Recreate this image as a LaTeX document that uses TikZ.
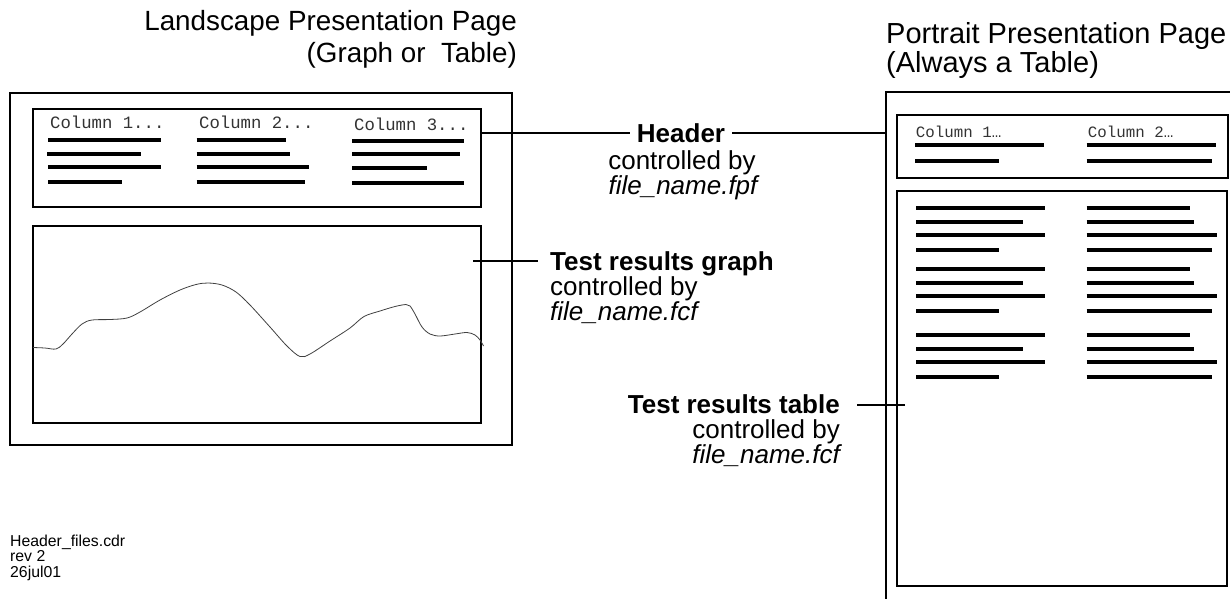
\documentclass[tikz,border=0pt]{standalone}
\usepackage{fontspec}
\setmainfont{Liberation Sans}
\newfontfamily\monof{Liberation Mono}
\usetikzlibrary{calc}
\begin{document}
\begin{tikzpicture}[x=1pt,y=-1pt,
  frame/.style={draw=black, line width=1.3pt, inner sep=0pt, outer sep=0pt, anchor=north west},
  bar/.style={line width=3.8pt},
  conn/.style={line width=1.1pt},
  lbl/.style={inner sep=0pt, font=\fontsize{26}{25}\selectfont},
  ttlL/.style={inner sep=0pt, font=\fontsize{27.8}{31}\selectfont},
  ttlP/.style={inner sep=0pt, font=\fontsize{29}{31}\selectfont},
  colhead/.style={inner sep=0pt, anchor=base west, text=black!80},
  foot/.style={inner sep=0pt, anchor=base west, font=\fontsize{15.8}{15.5}\selectfont},
  curve/.style={line width=0.8pt, black!75}
]
\useasboundingbox (0,0) rectangle (1230,598);

% titles
\node (ttlL1) [ttlL, anchor=base east] at (517,30.5) {Landscape Presentation Page};
\node (ttlL2) [ttlL, anchor=base east] at (517,62.5) {(Graph or\ \ Table)};
\node (ttlP1) [ttlP, anchor=base west] at (886,43) {Portrait Presentation Page};
\node (ttlP2) [ttlP, anchor=base west] at (886,72) {(Always a Table)};

% landscape page
\node (lpage) [frame, minimum width=502pt, minimum height=352pt] at (10,93) {};
\node (lhead) [frame, minimum width=448pt, minimum height=98pt] at (33,109) {};
\node (lgraph) [frame, minimum width=448pt, minimum height=197pt] at (33,226) {};

\node (lc1) [colhead, font=\monof\fontsize{17.3}{18}\selectfont] at (50,128.3) {Column 1...};
\node (lc2) [colhead, font=\monof\fontsize{17.3}{18}\selectfont] at (199,128.3) {Column 2...};
\node (lc3) [colhead, font=\monof\fontsize{17.3}{18}\selectfont] at (354,130) {Column 3...};

\foreach \y/\xa/\xb in {140/48.3/160.7, 153.7/47.3/141, 167/48.3/160.7, 181.7/48.3/121.7,
  140/196.7/286, 153.7/196.7/290, 167/196.7/308.7, 181.7/196.7/304.7,
  141/352/464.3, 153.7/352/459.7, 168/352/427, 182.7/352/464.3}
  \draw[bar] (\xa,\y) -- (\xb,\y);

\draw[curve] plot[smooth, tension=0.55] coordinates {
 (33,347.5) (45,348) (56,349) (63,344) (72,334) (82,324) (92,320) (110,319.5) (127,318)
 (140,312) (160,300) (180,290) (196,284.5) (208,283) (222,285) (236,292) (250,305)
 (270,327) (287,346) (300,356.5) (310,354) (330,341) (350,328) (364,316.5) (380,311)
 (395,306.5) (406,304.5) (410,306) (415,314) (422,327) (430,334) (440,336) (455,334)
 (467,332.5) (475,335) (480,340) (483.5,346)};

% portrait page
\coordinate (pTL) at (886,92);
\coordinate (pTR) at (1232,92);
\coordinate (pBL) at (886,600);
\draw[line width=1.3pt] (pTR) -- (pTL) -- (pBL);
\node (phead) [frame, minimum width=331pt, minimum height=63pt] at (897,115) {};
\node (pbody) [frame, minimum width=330pt, minimum height=395pt] at (897,191) {};

\node (pc1) [colhead, font=\monof\fontsize{15.8}{17}\selectfont] at (915.7,137.3) {Column 1…};
\node (pc2) [colhead, font=\monof\fontsize{15.8}{17}\selectfont] at (1087.7,137.3) {Column 2…};

\foreach \y/\xa/\xb in {145/915/1044, 160.7/915/999, 145/1086.7/1216, 160.7/1086.7/1212}
  \draw[bar] (\xa,\y) -- (\xb,\y);

\foreach \g in {0,61,127.3}{
  \foreach \dy/\ea/\eb in {207.7/1045/1190, 221.7/1023/1194, 235/1045/1217, 250/999/1212}{
    \draw[bar] (916,\dy+\g) -- (\ea,\dy+\g);
    \draw[bar] (1086.7,\dy+\g) -- (\eb,\dy+\g);
  }
}

% header label
\node (hdrT) [lbl, font=\fontsize{26}{25}\selectfont\bfseries] at (681,133) {Header};
\node (hdrC) [lbl, anchor=base] at (682,169) {controlled by};
\node (hdrF) [lbl, anchor=base] at (683,194) {\itshape file\_name.fpf};
\coordinate (hA) at (482,133);
\draw[conn] (hA) -- ($(hdrT.west)+(-7,0)$);
\draw[conn] ($(hdrT.east)+(7,0)$) -- (pTL |- hdrT.east);

% graph label
\node (grT) [lbl, anchor=base west, font=\fontsize{26}{25}\selectfont\bfseries] at (550,270) {Test results graph};
\node (grC) [lbl, anchor=base west] at (550,295) {controlled by};
\node (grF) [lbl, anchor=base west] at (550,320) {\itshape file\_name.fcf};
\coordinate (gA) at (473,261);
\draw[conn] (gA) -- ($(gA -| grT.west)+(-12,0)$);

% table label
\node (tbT) [lbl, anchor=base east, font=\fontsize{26}{25}\selectfont\bfseries] at (840,413) {Test results table};
\node (tbC) [lbl, anchor=base east] at (840,438) {controlled by};
\node (tbF) [lbl, anchor=base east] at (840,463) {\itshape file\_name.fcf};
\coordinate (tA) at (905,405);
\draw[conn] (tA) -- ($(tA -| tbT.east)+(17,0)$);

% footer
\node (f1) [foot] at (10,546) {Header\_files.cdr};
\node (f2) [foot] at (10,561.5) {rev 2};
\node (f3) [foot] at (10,577) {26jul01};
\end{tikzpicture}
\end{document}
